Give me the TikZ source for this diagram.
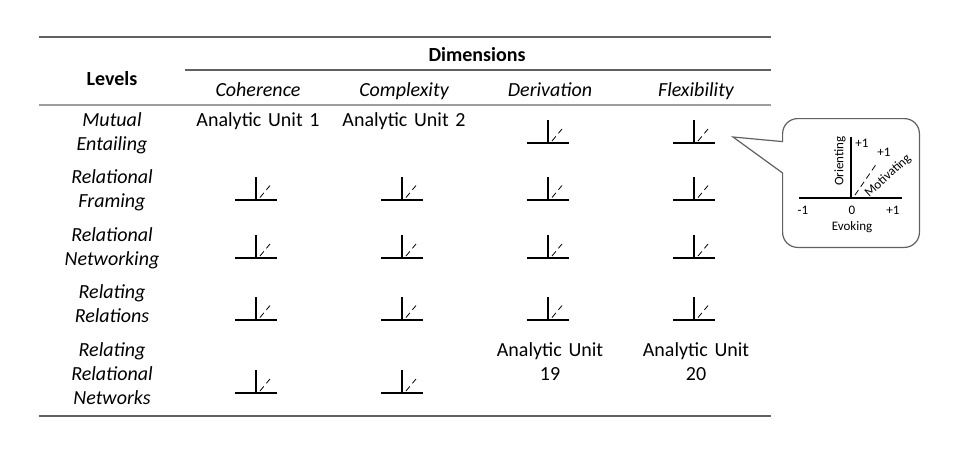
\documentclass[tikz,border=0pt]{standalone}
\usepackage{fontspec}
\setmainfont{Carlito}
\usetikzlibrary{matrix}
\definecolor{ruledark}{gray}{0.38}
\definecolor{rulelight}{gray}{0.62}

\begin{document}
\begin{tikzpicture}[x=0.5pt,y=-0.5pt,
	rule/.style={draw=ruledark,line width=0.75pt},
	lightrule/.style={draw=rulelight,line width=1pt},
	axis/.style={line width=1pt},
	keytext/.style={font=\fontsize{6.5}{7}\selectfont,inner sep=0pt},
	glyph/.pic={
		\draw[axis] (-10.5pt,0) -- (10.5pt,0);
		\draw[axis] (0,0) -- (0,11.5pt);
		\draw[densely dashed,line width=0.4pt] (2pt,1pt) -- (7pt,7pt);
	}]
	\useasboundingbox (0,0) rectangle (956,456);
	\matrix (m) [matrix of nodes,matrix anchor=m-1-2.base,ampersand replacement=\&,
		nodes={text width=73pt,align=center,inner sep=0pt},
		row sep={28.75pt,between origins},
		row 1/.style={nodes={font=\itshape}},
		column 1/.style={nodes={font=\itshape}}] at (258,96.5)
	{
		|[font=\bfseries,yshift=5.75pt]| Levels \& Coherence \& Complexity \& Derivation \& Flexibility \\[-14pt]
		{Mutual\\Entailing} \& Analytic Unit 1 \& Analytic Unit 2 \& \& \\
		{Relational\\Framing} \& \& \& \& \\
		{Relational\\Networking} \& \& \& \& \\
		{Relating\\Relations} \& \& \& \& \\
		{Relating\\Relational\\Networks} \& \& \& {Analytic Unit\\19} \& {Analytic Unit\\20} \\
	};
	\draw[rule] (39,37) -- (771,37);
	\node[font=\bfseries,anchor=base] (dims) at (477,61) {Dimensions};
	\draw[rule] (185,70) -- (771,70);
	\draw[lightrule] (39,104.5) -- (771,104.5);
	\draw[rule,line width=1pt] (39,416) -- (771,416);
	\foreach \c in {4,5}
		\path (m-2-1.base -| m-1-\c) ++(-1pt,-8.5pt) pic {glyph};
	\foreach \r/\dy in {3/8pt,4/8.5pt,5/10.5pt}
		\foreach \c in {2,...,5}
			\path (m-\r-1.base -| m-1-\c) ++(-1pt,-\dy) pic {glyph};
	\foreach \c in {2,3}
		\path (m-6-1.base -| m-1-\c) ++(-1pt,-18.5pt) pic {glyph};
	\coordinate (tip) at (733,137);
	\node[minimum width=68pt,minimum height=64pt,inner sep=0pt] (key) at (851,183) {};
	\draw[ruledark,line width=0.6pt] (tip) -- ([yshift=-11.5pt]key.north west) [rounded corners=7.5pt]
		-- (key.north west) -- (key.north east) -- (key.south east) -- (key.south west) [sharp corners]
		-- ([yshift=5pt]key.west) -- cycle;
	\coordinate (o) at (851,198);
	\draw[axis] (799,198) -- (902,198);
	\draw[axis] (o) -- (851,137);
	\draw[densely dashed,line width=0.4pt] (855,195) -- (877,163);
	\node[keytext,rotate=90] (orient) at (840,161) {Orienting};
	\node[keytext] (ptop) at (862,143) {+1};
	\node[keytext] (pdiag) at (884,152) {+1};
	\node[keytext,rotate=42] (motiv) at (888,176) {Motivating};
	\node[keytext] (xneg) at (803,210) {-1};
	\node[keytext] (xzero) at (852,210) {0};
	\node[keytext] (xpos) at (893,210) {+1};
	\node[keytext] (evok) at (852,227) {Evoking};
\end{tikzpicture}
\end{document}
